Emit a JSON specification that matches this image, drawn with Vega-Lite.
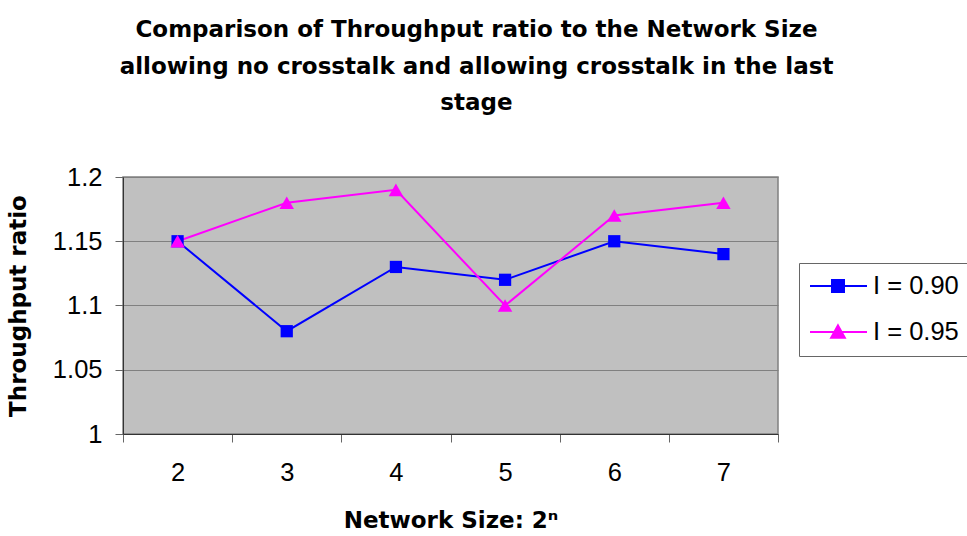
{
  "$schema": "https://vega.github.io/schema/vega-lite/v6.json",
  "width": 655,
  "height": 257,
  "autosize": {"type": "none"},
  "padding": {"left": 123, "top": 177, "right": 189, "bottom": 102},
  "background": "white",
  "title": {
    "text": [
      "Comparison of Throughput ratio to the Network Size",
      "allowing no crosstalk and allowing crosstalk in the last",
      "stage"
    ],
    "font": "DejaVu Sans",
    "fontWeight": "bold",
    "fontSize": 23,
    "lineHeight": 36.5,
    "color": "black",
    "anchor": "middle",
    "frame": "group",
    "dx": 26,
    "offset": 50
  },
  "data": {
    "values": [
      {"n": "2", "series": "I = 0.90", "ratio": 1.15},
      {"n": "3", "series": "I = 0.90", "ratio": 1.08},
      {"n": "4", "series": "I = 0.90", "ratio": 1.13},
      {"n": "5", "series": "I = 0.90", "ratio": 1.12},
      {"n": "6", "series": "I = 0.90", "ratio": 1.15},
      {"n": "7", "series": "I = 0.90", "ratio": 1.14},
      {"n": "2", "series": "I = 0.95", "ratio": 1.15},
      {"n": "3", "series": "I = 0.95", "ratio": 1.18},
      {"n": "4", "series": "I = 0.95", "ratio": 1.19},
      {"n": "5", "series": "I = 0.95", "ratio": 1.10},
      {"n": "6", "series": "I = 0.95", "ratio": 1.17},
      {"n": "7", "series": "I = 0.95", "ratio": 1.18}
    ]
  },
  "encoding": {
    "x": {
      "field": "n",
      "type": "ordinal",
      "scale": {"type": "band", "paddingInner": 0, "paddingOuter": 0},
      "axis": {
        "title": "Network Size: 2ⁿ",
        "labelAngle": 0,
        "tickBand": "extent",
        "tickSize": 8,
        "labelPadding": 18,
        "titlePadding": 24,
        "grid": false
      }
    },
    "y": {
      "field": "ratio",
      "type": "quantitative",
      "scale": {"domain": [1, 1.2], "zero": false, "nice": false},
      "axis": {
        "title": "Throughput ratio",
        "values": [1, 1.05, 1.1, 1.15, 1.2],
        "format": "~g",
        "tickSize": 8,
        "labelPadding": 13,
        "titlePadding": 22,
        "grid": true
      }
    }
  },
  "layer": [
    {
      "mark": {"type": "line", "strokeWidth": 2},
      "encoding": {
        "color": {
          "field": "series",
          "type": "nominal",
          "scale": {"domain": ["I = 0.90", "I = 0.95"], "range": ["#0000ff", "#ff00ff"]},
          "legend": {
            "orient": "none",
            "legendX": 676,
            "legendY": 86,
            "title": null,
            "strokeColor": "#666666",
            "padding": 10,
            "labelFont": "Liberation Sans",
            "labelFontSize": 25.5,
            "labelColor": "black",
            "labelOffset": 38,
            "rowPadding": 19,
            "symbolSize": 576,
            "symbolStrokeWidth": 2,
            "symbolType": "M-1,0H3.75M0.833,-0.5H1.833V0.5H0.833Z",
            "encode": {
              "symbols": {
                "update": {
                  "shape": {"signal": "datum.value === 'I = 0.90' ? 'M-1,0H3.75M0.833,-0.5H1.833V0.5H0.833Z' : 'M-1,0H3.75M1.333,-0.55L1.903,0.475H0.763Z'"},
                  "fill": {"scale": "color", "field": "value"},
                  "stroke": {"scale": "color", "field": "value"},
                  "opacity": {"value": 1}
                }
              }
            }
          }
        }
      }
    },
    {
      "transform": [{"filter": "datum.series === 'I = 0.90'"}],
      "mark": {"type": "point", "shape": "square", "filled": true, "opacity": 1, "size": 150, "color": "#0000ff"}
    },
    {
      "transform": [{"filter": "datum.series === 'I = 0.95'"}],
      "mark": {"type": "point", "shape": "triangle-up", "filled": true, "opacity": 1, "size": 210, "color": "#ff00ff"}
    }
  ],
  "config": {
    "view": {"fill": "#c0c0c0", "stroke": "#808080", "strokeWidth": 1.5},
    "axis": {
      "labelFont": "Liberation Sans",
      "labelFontSize": 25.5,
      "labelColor": "black",
      "titleFont": "DejaVu Sans",
      "titleFontWeight": "bold",
      "titleFontSize": 23,
      "titleColor": "black",
      "domainColor": "#333333",
      "domainWidth": 1,
      "tickColor": "#666666",
      "tickWidth": 1,
      "gridColor": "#808080",
      "gridWidth": 1,
      "gridOpacity": 1
    }
  }
}
